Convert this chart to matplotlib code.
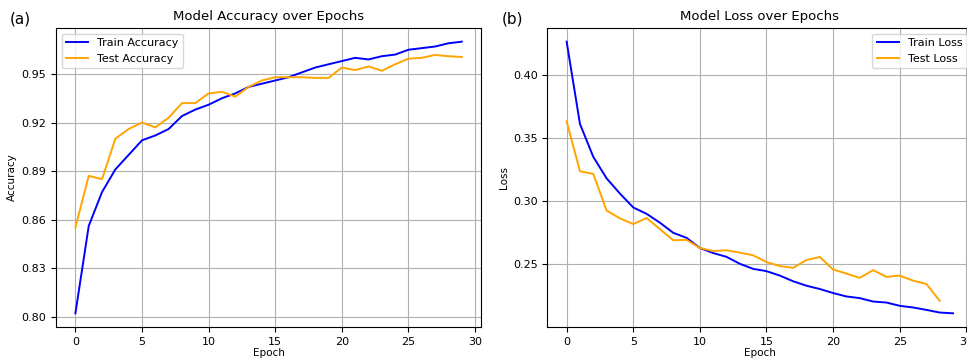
import numpy as np
import matplotlib
matplotlib.use("Agg")
import matplotlib.pyplot as plt

# 값은 그림에서 읽어낸 추정치
epochs = list(range(30))

train_acc = [0.802, 0.856, 0.877, 0.891, 0.900, 0.909, 0.912, 0.916, 0.924, 0.928,
             0.931, 0.935, 0.938, 0.942, 0.944, 0.946, 0.948, 0.951, 0.954, 0.956,
             0.958, 0.960, 0.959, 0.961, 0.962, 0.965, 0.966, 0.967, 0.969, 0.970]
test_acc = [0.855, 0.887, 0.885, 0.910, 0.916, 0.920, 0.917, 0.923, 0.932, 0.932,
            0.938, 0.939, 0.936, 0.942, 0.946, 0.948, 0.948, 0.948, 0.9476, 0.9476,
            0.954, 0.9524, 0.9547, 0.952, 0.956, 0.9595, 0.960, 0.9618, 0.961, 0.9605]

train_loss = [0.426, 0.361, 0.335, 0.318, 0.306, 0.295, 0.290, 0.283, 0.275, 0.271,
              0.263, 0.259, 0.256, 0.2505, 0.2465, 0.2447, 0.2412, 0.2367, 0.2332, 0.2306,
              0.2274, 0.2247, 0.2234, 0.2207, 0.2199, 0.2173, 0.2160, 0.2141, 0.212, 0.2114]
test_loss = [0.363, 0.3236, 0.3215, 0.2926, 0.2864, 0.2819, 0.2867, 0.2779, 0.2691, 0.2694,
             0.263, 0.2606, 0.2612, 0.2593, 0.2572, 0.2519, 0.2487, 0.2473, 0.2535, 0.2559,
             0.246, 0.2428, 0.2394, 0.2455, 0.2402, 0.2412, 0.2372, 0.2346, 0.2213]

acc_ticks = [0.80, 0.83, 0.86, 0.89, 0.92, 0.95]

fig = plt.figure(figsize=(9.67, 3.6), dpi=100)
ax1 = fig.add_axes([0.058, 0.092, 0.4395, 0.830])
ax2 = fig.add_axes([0.566, 0.092, 0.4395, 0.830])

# (a) 정확도
ax1.plot(epochs, train_acc, color="blue", lw=1.4, label="Train Accuracy")
ax1.plot(epochs, test_acc, color="orange", lw=1.4, label="Test Accuracy")
ax1.set_yticks(acc_ticks)
ax1.set_yticklabels([f"{t:.2f}" for t in acc_ticks])
ax1.set_title("Model Accuracy over Epochs", fontsize=9.5)
ax1.set_xlabel("Epoch", fontsize=7.5, labelpad=1)
ax1.set_ylabel("Accuracy", fontsize=7.5, labelpad=3)
ax1.legend(loc="upper left", fontsize=8)

# (b) 손실
ax2.plot(epochs, train_loss, color="blue", lw=1.4, label="Train Loss")
ax2.plot(epochs[:len(test_loss)], test_loss, color="orange", lw=1.4, label="Test Loss")
ax2.set_title("Model Loss over Epochs", fontsize=9.5)
ax2.set_xlabel("Epoch", fontsize=7.5, labelpad=1)
ax2.set_ylabel("Loss", fontsize=7.5, labelpad=3)
ax2.legend(loc="upper right", fontsize=8)

for ax in (ax1, ax2):
    ax.grid(True)
    ax.tick_params(labelsize=8)

fig.text(0.010, 0.935, "(a)", fontsize=11)
fig.text(0.519, 0.935, "(b)", fontsize=11)

plt.savefig("out.png", dpi=100)
plt.close()
